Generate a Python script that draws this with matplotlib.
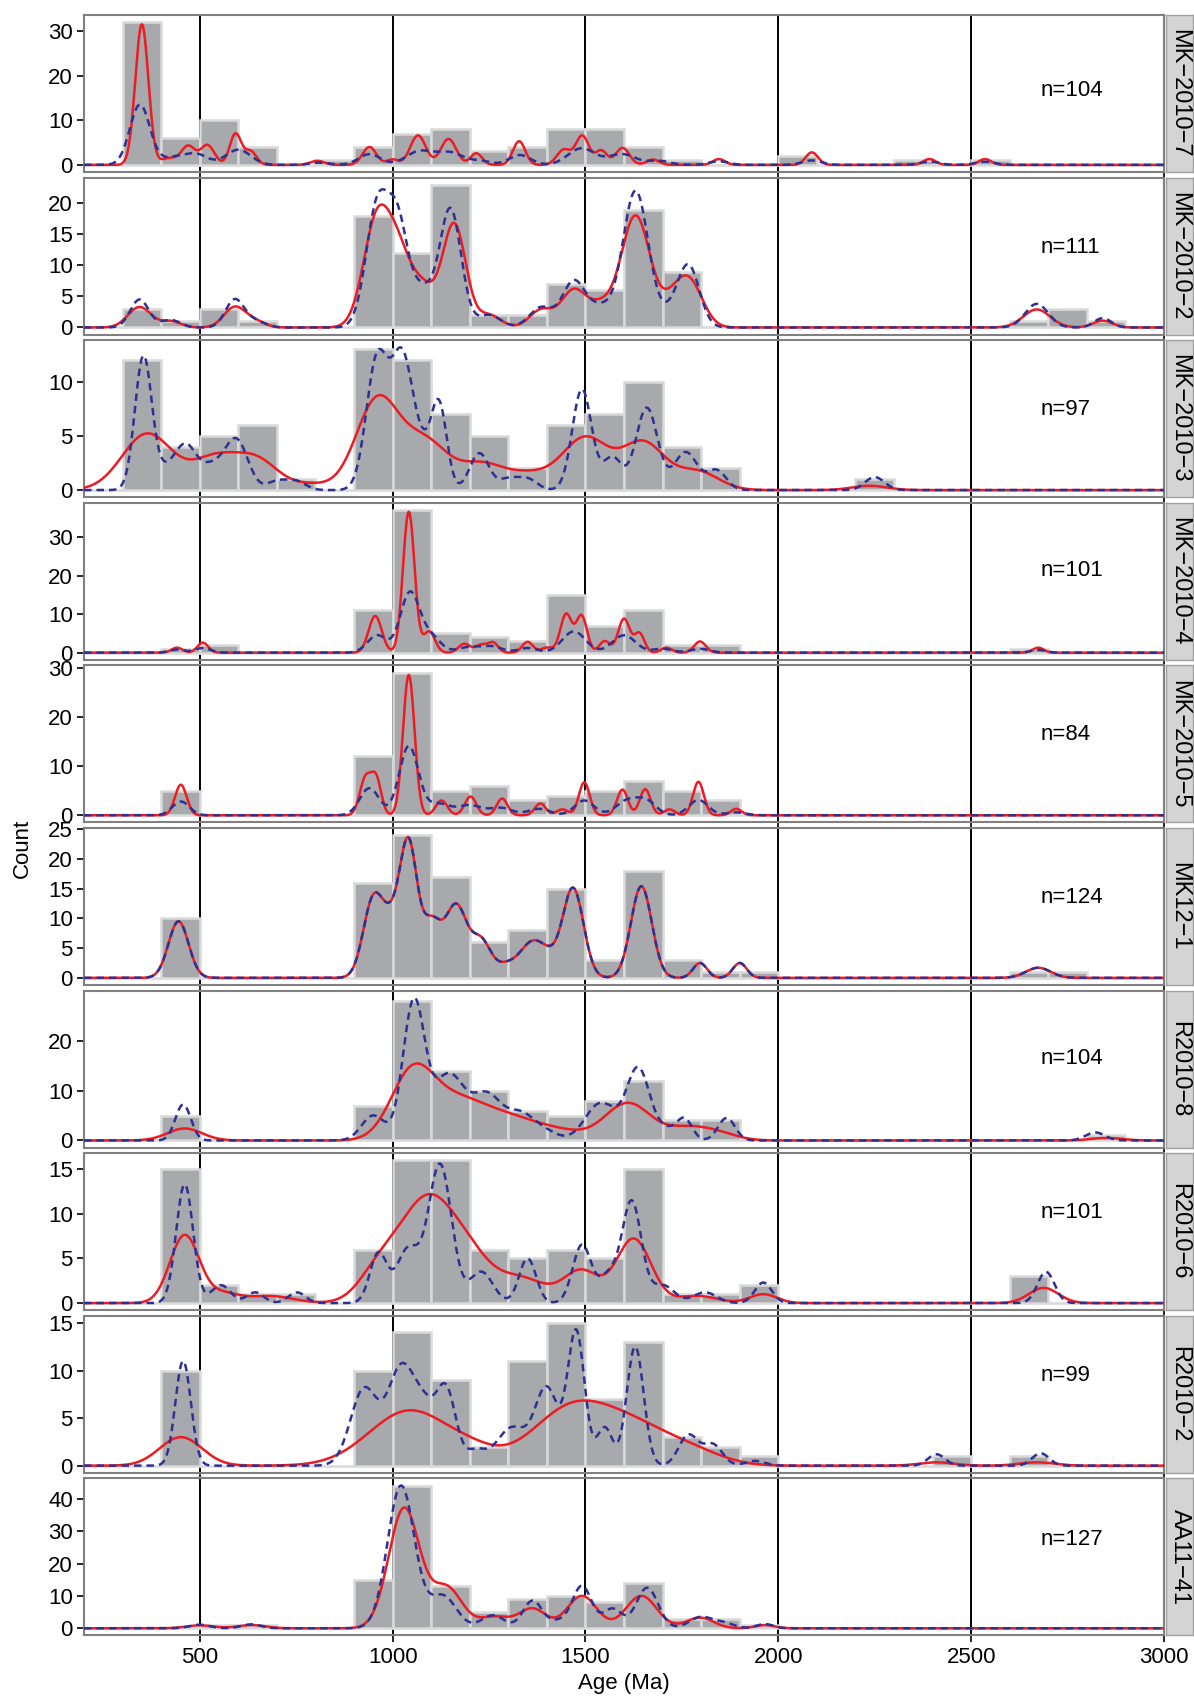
import matplotlib
matplotlib.use("Agg")

import matplotlib.pyplot as plt
import numpy as np

plt.rcParams["font.family"] = ["Liberation Sans", "DejaVu Sans"]

# samples, top to bottom
samples = ["MK−2010−7", "MK−2010−2", "MK−2010−3", "MK−2010−4", "MK−2010−5",
           "MK12−1", "R2010−8", "R2010−6", "R2010−2", "AA11−41"]
n_grains = [104, 111, 97, 101, 84, 124, 104, 101, 99, 127]
n_label_y = [0.52, 0.555, 0.56, 0.566, 0.559, 0.56, 0.57, 0.62, 0.62, 0.61]
y_breaks = [[0, 10, 20, 30], [0, 5, 10, 15, 20], [0, 5, 10], [0, 10, 20, 30],
            [0, 10, 20, 30], [0, 5, 10, 15, 20, 25], [0, 10, 20],
            [0, 5, 10, 15], [0, 5, 10, 15], [0, 10, 20, 30, 40]]
x_breaks = [500, 1000, 1500, 2000, 2500, 3000]
ref_lines = [500, 1000, 1500, 2000, 2500]

# histogram counts, 100 Ma bins starting at 200 Ma
bin_left = np.arange(200, 3000, 100)
counts_mk7 = [0, 32, 6, 10, 4, 0, 1, 4, 7, 8, 3, 4, 8, 8, 4, 1, 0, 0, 2, 0, 0, 1, 0, 1, 0, 0, 0, 0]
counts_mk2 = [0, 3, 1, 3, 1, 0, 0, 18, 12, 23, 2, 2, 7, 6, 19, 9, 0, 0, 0, 0, 0, 0, 0, 0, 1, 3, 1, 0]
counts_mk3 = [0, 12, 4, 5, 6, 1, 0, 13, 12, 7, 5, 2, 6, 7, 10, 4, 2, 0, 0, 0, 1, 0, 0, 0, 0, 0, 0, 0]
counts_mk4 = [0, 0, 1, 2, 0, 0, 0, 11, 37, 5, 4, 3, 15, 7, 11, 2, 2, 0, 0, 0, 0, 0, 0, 0, 1, 0, 0, 0]
counts_mk5 = [0, 0, 5, 0, 0, 0, 0, 12, 29, 5, 6, 3, 4, 5, 7, 5, 3, 0, 0, 0, 0, 0, 0, 0, 0, 0, 0, 0]
counts_mk12 = [0, 0, 10, 0, 0, 0, 0, 16, 24, 17, 6, 8, 15, 3, 18, 3, 1, 1, 0, 0, 0, 0, 0, 0, 1, 1, 0, 0]
counts_r8 = [0, 0, 5, 0, 0, 0, 0, 7, 28, 14, 10, 6, 5, 8, 12, 4, 4, 0, 0, 0, 0, 0, 0, 0, 0, 0, 1, 0]
counts_r6 = [0, 0, 15, 2, 1, 1, 0, 6, 16, 16, 6, 5, 6, 5, 15, 1, 1, 2, 0, 0, 0, 0, 0, 0, 3, 0, 0, 0]
counts_r2 = [0, 0, 10, 0, 0, 0, 0, 10, 14, 9, 2, 11, 15, 7, 13, 3, 2, 1, 0, 0, 0, 0, 1, 0, 1, 0, 0, 0]
counts_aa = [0, 0, 0, 1, 1, 0, 0, 15, 44, 13, 5, 9, 10, 8, 14, 3, 3, 1, 0, 0, 0, 0, 0, 0, 0, 0, 0, 0]

# density curves: (age, height, width)
red_mk7 = [(350, 31.5, 17), (420, 1.5, 20), (470, 4.2, 18), (520, 4.4, 18), (593, 7.0, 15),
           (632, 3.0, 15), (805, 0.9, 18), (940, 4.0, 18), (1000, 1.2, 15), (1066, 6.6, 20),
           (1145, 5.8, 20), (1217, 2.6, 15), (1328, 5.3, 16), (1444, 3.4, 18), (1492, 6.5, 17),
           (1541, 3.2, 15), (1596, 3.8, 18), (1675, 1.2, 16), (1846, 1.3, 16), (2087, 2.8, 16),
           (2392, 1.3, 16), (2536, 1.3, 16)]
blue_mk7 = [(345, 13.5, 26), (430, 1.5, 30), (490, 2.4, 30), (600, 3.4, 32), (810, 0.5, 25),
            (940, 2.4, 28), (1070, 3.0, 35), (1150, 2.7, 35), (1230, 0.8, 25), (1330, 2.2, 28),
            (1490, 3.7, 35), (1595, 2.4, 35), (1690, 0.9, 28), (1846, 0.8, 25), (2087, 1.0, 25),
            (2392, 0.7, 25), (2536, 0.7, 25)]
red_mk2 = [(344, 3.3, 30), (425, 1.0, 25), (591, 3.3, 28), (645, 0.9, 25), (960, 17.5, 35),
           (1015, 9.0, 30), (1075, 6.5, 35), (1160, 16.5, 30), (1250, 2.0, 30), (1385, 2.8, 30),
           (1470, 6.0, 33), (1540, 3.0, 30), (1630, 18.0, 38), (1720, 2.5, 30), (1768, 7.5, 35),
           (2670, 2.9, 35), (2841, 1.1, 25)]
blue_mk2 = [(344, 4.5, 24), (425, 1.2, 25), (591, 4.5, 24), (645, 1.0, 25), (962, 20.0, 30),
            (1015, 14.5, 25), (1075, 6.0, 30), (1150, 19.0, 28), (1250, 2.0, 30), (1385, 3.2, 30),
            (1470, 7.4, 30), (1540, 3.0, 30), (1630, 22.0, 33), (1720, 2.0, 30), (1768, 9.6, 28),
            (2670, 3.8, 30), (2841, 1.5, 22)]
red_mk3 = [(364, 5.2, 65), (540, 2.9, 60), (650, 2.6, 55), (790, 0.5, 50), (960, 8.2, 55),
           (1085, 4.4, 60), (1230, 2.2, 55), (1350, 1.4, 60), (1500, 4.8, 60), (1650, 4.3, 55),
           (1790, 1.7, 55), (2236, 0.4, 45)]
blue_mk3 = [(354, 12.3, 22), (410, 1.5, 25), (463, 4.0, 28), (530, 2.0, 30), (595, 4.6, 30),
            (700, 0.8, 25), (750, 0.8, 25), (960, 12.0, 28), (1025, 12.0, 28), (1080, 3.0, 25),
            (1121, 7.5, 20), (1225, 3.4, 25), (1300, 1.0, 25), (1350, 1.0, 25), (1491, 9.3, 25),
            (1570, 3.0, 25), (1659, 7.6, 28), (1760, 3.5, 30), (1840, 1.8, 25), (2250, 1.2, 25)]
red_mk4 = [(441, 1.3, 14), (508, 2.6, 14), (955, 9.5, 17), (1042, 36.5, 15), (1095, 5.5, 15),
           (1186, 2.3, 15), (1230, 2.0, 15), (1261, 2.5, 13), (1350, 2.8, 14), (1400, 1.3, 15),
           (1450, 10.0, 15), (1490, 9.5, 14), (1550, 3.0, 14), (1600, 8.8, 15), (1640, 5.0, 13),
           (1710, 1.3, 14), (1797, 2.9, 15), (2674, 1.3, 14)]
blue_mk4 = [(441, 0.8, 20), (508, 1.2, 20), (960, 4.5, 25), (1045, 15.5, 25), (1100, 4.0, 25),
            (1200, 1.5, 30), (1260, 1.5, 25), (1350, 1.2, 25), (1470, 5.5, 30), (1600, 4.5, 30),
            (1700, 1.0, 25), (1797, 1.0, 25), (2674, 0.7, 20)]
red_mk5 = [(451, 6.2, 15), (930, 7.5, 15), (958, 7.0, 13), (1042, 28.5, 15), (1127, 3.0, 15),
           (1202, 3.8, 15), (1284, 3.4, 14), (1383, 2.4, 14), (1440, 1.2, 15), (1497, 6.7, 14),
           (1596, 5.2, 14), (1655, 5.3, 14), (1718, 1.2, 14), (1793, 6.8, 14), (1891, 1.3, 14)]
blue_mk5 = [(451, 2.8, 22), (940, 5.5, 25), (1042, 14.0, 25), (1120, 2.3, 30), (1200, 2.0, 30),
            (1280, 1.5, 30), (1380, 1.3, 28), (1497, 3.0, 25), (1610, 3.0, 30), (1660, 2.5, 25),
            (1793, 3.1, 25), (1891, 0.6, 25)]
red_mk12 = [(445, 9.5, 26), (950, 13.0, 26), (1000, 8.0, 25), (1042, 21.0, 22), (1100, 9.0, 25),
            (1165, 12.0, 28), (1230, 6.0, 25), (1290, 1.7, 25), (1363, 6.0, 35), (1410, 1.5, 25),
            (1468, 15.0, 27), (1645, 15.4, 27), (1797, 2.5, 18), (1900, 2.5, 18), (2674, 1.7, 32)]
blue_mk12 = red_mk12
red_r8 = [(461, 2.4, 45), (1050, 12.5, 55), (1170, 8.0, 80), (1320, 3.5, 70), (1440, 1.5, 60),
          (1610, 7.5, 60), (1760, 2.2, 50), (1840, 1.5, 50), (2851, 0.5, 40)]
blue_r8 = [(457, 7.2, 20), (950, 5.0, 30), (1055, 27.5, 28), (1145, 13.0, 40), (1245, 9.0, 40),
           (1335, 5.0, 35), (1400, 1.5, 30), (1540, 7.5, 40), (1637, 14.3, 30), (1710, 2.0, 25),
           (1757, 4.2, 20), (1866, 4.5, 22), (2822, 1.6, 25)]
red_r6 = [(461, 7.6, 38), (560, 1.0, 40), (680, 0.8, 60), (960, 2.5, 50), (1095, 12.0, 80),
          (1210, 2.0, 50), (1330, 2.8, 70), (1490, 3.5, 45), (1625, 7.2, 45), (1790, 0.8, 50),
          (1961, 1.0, 35), (2688, 1.7, 38)]
blue_r6 = [(461, 13.3, 22), (555, 2.0, 25), (644, 1.2, 22), (752, 1.2, 22), (963, 5.5, 22),
           (1040, 6.0, 30), (1123, 15.5, 30), (1230, 3.5, 30), (1350, 5.0, 22), (1491, 6.5, 24),
           (1560, 3.0, 25), (1620, 11.3, 25), (1700, 2.0, 30), (1810, 1.2, 30), (1961, 2.3, 22),
           (2694, 3.5, 22)]
red_r2 = [(451, 3.0, 55), (1045, 5.8, 105), (1210, 0.9, 60), (1470, 6.2, 105), (1640, 3.0, 90),
          (1780, 1.3, 80), (2410, 0.35, 45), (2670, 0.35, 45)]
blue_r2 = [(457, 11.0, 20), (926, 8.0, 35), (1022, 10.0, 35), (1085, 5.0, 30), (1140, 7.5, 25),
           (1215, 1.5, 25), (1310, 4.0, 40), (1400, 8.0, 30), (1476, 14.0, 22), (1550, 4.0, 20),
           (1629, 12.5, 22), (1767, 3.2, 25), (1830, 2.2, 25), (1940, 0.5, 25), (2410, 1.2, 22),
           (2680, 1.3, 22)]
red_aa = [(500, 0.9, 35), (634, 1.0, 35), (1030, 37.0, 40), (1140, 12.5, 40), (1265, 3.5, 40),
          (1363, 6.0, 35), (1491, 10.0, 38), (1645, 10.0, 40), (1797, 3.3, 35), (1965, 1.0, 25)]
blue_aa = [(500, 1.1, 25), (634, 1.2, 25), (1022, 44.0, 35), (1130, 10.0, 35), (1260, 4.0, 30),
           (1363, 8.5, 25), (1430, 2.0, 25), (1491, 13.0, 25), (1570, 6.0, 25), (1660, 12.5, 28),
           (1800, 3.5, 30), (1860, 1.5, 25), (1965, 1.3, 22)]

all_counts = [counts_mk7, counts_mk2, counts_mk3, counts_mk4, counts_mk5,
              counts_mk12, counts_r8, counts_r6, counts_r2, counts_aa]
all_red = [red_mk7, red_mk2, red_mk3, red_mk4, red_mk5, red_mk12, red_r8, red_r6, red_r2, red_aa]
all_blue = [blue_mk7, blue_mk2, blue_mk3, blue_mk4, blue_mk5, blue_mk12, blue_r8, blue_r6, blue_r2, blue_aa]


def curve(peaks, x):
    y = np.zeros_like(x)
    for mu, h, sd in peaks:
        y += h * np.exp(-0.5 * ((x - mu) / sd) ** 2)
    return y


ages = np.linspace(200, 3000, 2801)

fig = plt.figure(figsize=(11.94, 16.96), dpi=100)
W, H = 1194.0, 1696.0
left, right = 84, 1164
top0, panel_h, step = 15, 157, 162.6

for i, name in enumerate(samples):
    top = top0 + i * step
    ax = fig.add_axes([left / W, 1 - (top + panel_h) / H, (right - left) / W, panel_h / H])
    red = curve(all_red[i], ages)
    blue = curve(all_blue[i], ages)
    ymax = max(max(all_counts[i]), red.max(), blue.max())

    for xv in ref_lines:
        ax.axvline(xv, color="black", lw=1.4, zorder=1)
    ax.bar(bin_left, all_counts[i], width=100, align="edge", color="#a7a9ac",
           edgecolor="#d9d9d9", linewidth=1.8, zorder=2)
    ax.plot(ages, red, color="#ed1c24", lw=1.8, zorder=3)
    ax.plot(ages, blue, color="#2e3192", lw=1.8, dashes=(3, 2), zorder=4)

    ax.set_xlim(200, 3000)
    ax.set_ylim(-0.05 * ymax, 1.05 * ymax)
    ax.text(2680, -0.05 * ymax + n_label_y[i] * 1.1 * ymax, "n=%d" % n_grains[i],
            ha="left", va="center", fontsize=16)
    ax.set_yticks(y_breaks[i])
    ax.set_xticks(x_breaks)
    ax.tick_params(axis="both", direction="out", length=5, width=1.2, color="black",
                   labelsize=16, pad=3)
    if i < len(samples) - 1:
        ax.tick_params(axis="x", labelbottom=False)
    for sp in ax.spines.values():
        sp.set_color("#808080")
        sp.set_linewidth(1.5)

    # facet strip on the right
    sax = fig.add_axes([1166 / W, 1 - (top + panel_h) / H, 27 / W, panel_h / H])
    sax.set_facecolor("#d4d4d4")
    sax.set_xticks([])
    sax.set_yticks([])
    for sp in sax.spines.values():
        sp.set_color("#a0a0a0")
        sp.set_linewidth(1.0)
    sax.text(0.5, 0.5, name, rotation=-90, ha="center", va="center",
             fontsize=17, transform=sax.transAxes)

fig.text(22 / W, 0.5, "Count", rotation=90, ha="center", va="center", fontsize=16)
fig.text((left + right) / 2 / W, 1 - 1683 / H, "Age (Ma)", ha="center", va="center", fontsize=16)

fig.savefig("out.png", dpi=100)
